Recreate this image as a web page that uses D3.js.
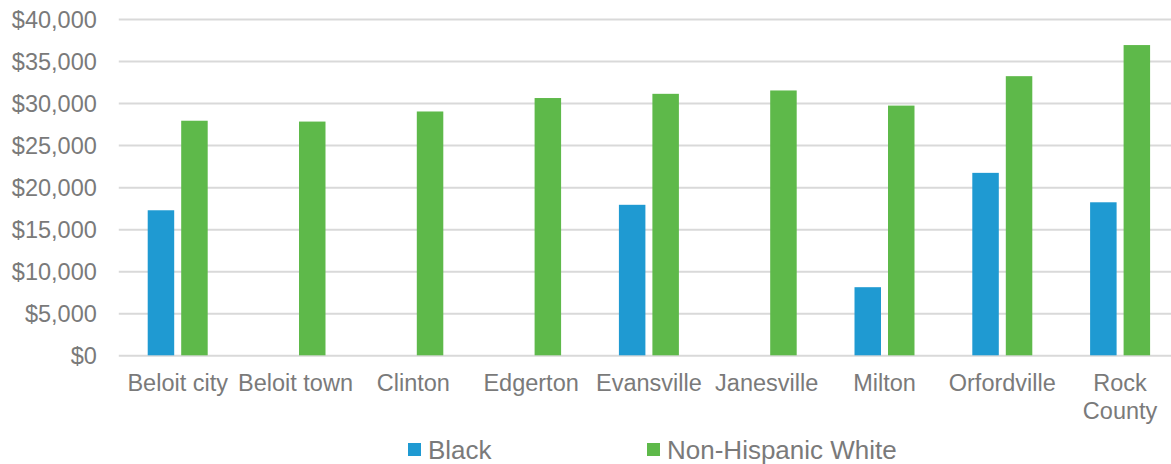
<!DOCTYPE html>
<html>
<head>
<meta charset="utf-8">
<script src="https://cdn.jsdelivr.net/npm/d3@7"></script>
<style>
  html, body { margin: 0; padding: 0; background: #fff; overflow: hidden; }
  svg { display: block; }
  text { font-family: "Liberation Sans", Arial, sans-serif; fill: #7a7a7a; }
</style>
</head>
<body>
<svg id="chart" width="1171" height="464"></svg>
<script>
const categories = ["Beloit city", "Beloit town", "Clinton", "Edgerton", "Evansville", "Janesville", "Milton", "Orfordville", "Rock County"];
const seriesNames = ["Black", "Non-Hispanic White"];
const blackValues = [17250, null, null, null, 17900, null, 8100, 21700, 18200];
const whiteValues = [27900, 27800, 29000, 30600, 31100, 31500, 29700, 33200, 36900];
const tickValues = [0, 5000, 10000, 15000, 20000, 25000, 30000, 35000, 40000];
const colors = ["#1f9ad2", "#5eb94a"];

const svg = d3.select("#chart");
const W = 1171, H = 464;
const plotLeft = 118.8, plotRight = 1179;

const x0 = d3.scaleBand().domain(categories).range([plotLeft, plotRight]).padding(0);
const x1 = d3.scaleBand().domain(seriesNames).range([0, x0.bandwidth()]).paddingInner(0.209).paddingOuter(0.863);
const y = d3.scaleLinear().domain([0, 40000]).range([355.3, 19]);
const color = d3.scaleOrdinal().domain(seriesNames).range(colors);

// gridlines
const yAxis = d3.axisLeft(y).tickValues(tickValues).tickSize(-(W - plotLeft)).tickFormat(d => "$" + d3.format(",")(d));
const gy = svg.append("g").attr("transform", `translate(${plotLeft},0)`).call(yAxis);
gy.select(".domain").remove();
gy.selectAll(".tick line").attr("stroke", "#d9d9d9").attr("stroke-width", 2);
gy.selectAll(".tick text").attr("x", -22).attr("dy", "0.36em").style("font-size", "23.5px").style("fill", "#7a7a7a");

// bars
const data = categories.map((c, i) => ({ cat: c, vals: [
  { s: seriesNames[0], v: blackValues[i] },
  { s: seriesNames[1], v: whiteValues[i] }
] }));

const groups = svg.append("g").selectAll("g").data(data).join("g")
  .attr("transform", d => `translate(${x0(d.cat)},0)`);
groups.selectAll("rect").data(d => d.vals.filter(v => v.v != null)).join("rect")
  .attr("x", d => x1(d.s))
  .attr("width", x1.bandwidth())
  .attr("y", d => y(d.v))
  .attr("height", d => y(0) - y(d.v))
  .attr("fill", d => color(d.s));

// x axis labels
const xAxis = d3.axisBottom(x0).tickSize(0).tickFormat(d => d);
const gx = svg.append("g").attr("transform", `translate(0,${y(0)})`).call(xAxis);
gx.select(".domain").remove();
gx.selectAll(".tick text").style("font-size", "23.5px").style("fill", "#7a7a7a")
  .each(function(d) {
    const t = d3.select(this);
    t.text(null).attr("y", 0).attr("dy", null);
    const words = d === "Rock County" ? ["Rock", "County"] : [d];
    words.forEach((w, i) => {
      t.append("tspan").attr("x", 0).attr("y", 36 + i * 28).text(w);
    });
  });

// legend
const legendItems = [
  { name: seriesNames[0], x: 408 },
  { name: seriesNames[1], x: 647 }
];
const lg = svg.append("g").selectAll("g").data(legendItems).join("g")
  .attr("transform", d => `translate(${d.x},443)`);
lg.append("rect").attr("width", 13).attr("height", 13).attr("fill", d => color(d.name));
lg.append("text").attr("x", 20).attr("y", 16).style("font-size", "26px").text(d => d.name);
</script>
</body>
</html>
